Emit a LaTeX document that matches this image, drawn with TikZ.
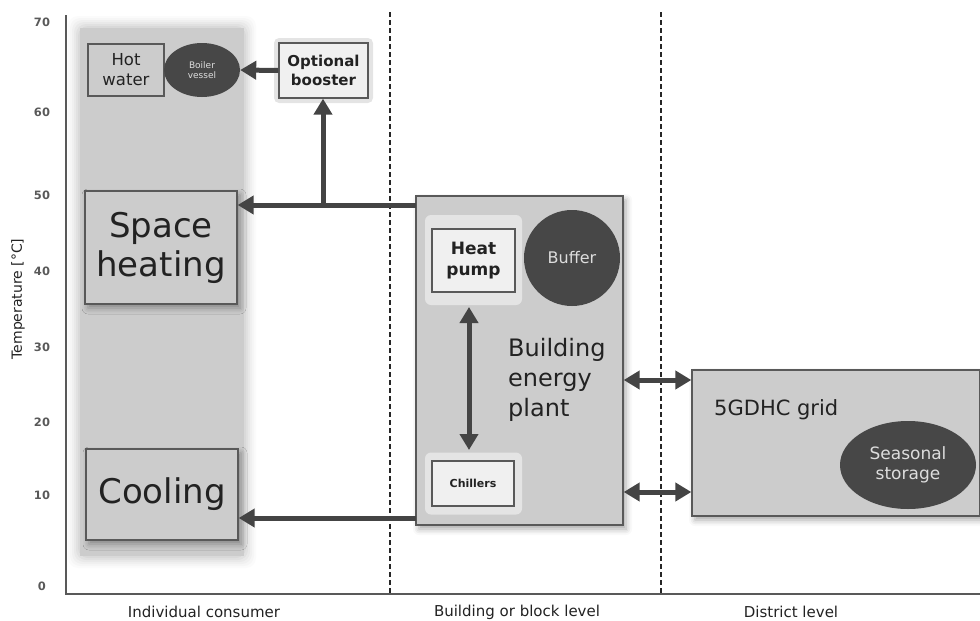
\documentclass[tikz,border=0pt]{standalone}
\usepackage{fontspec}
\setmainfont{DejaVu Sans}
\usetikzlibrary{arrows.meta,shadows.blur,calc,shapes.geometric}
\definecolor{boxgray}{HTML}{CCCCCC}
\definecolor{edgegray}{HTML}{595959}
\definecolor{darkfill}{HTML}{474747}
\definecolor{arrowgray}{HTML}{444444}
\definecolor{palefill}{HTML}{F0F0F0}
\definecolor{glowfill}{HTML}{E4E4E4}
\definecolor{txt}{HTML}{222222}
\definecolor{lighttxt}{HTML}{DDDDDD}
\newcommand{\fs}[2]{\fontsize{#1}{#2}\selectfont}
\begin{document}
\begin{tikzpicture}[x=1pt,y=-1pt,
  mybox/.style={draw=edgegray, line width=1.3pt, fill=boxgray, inner sep=0pt, text=txt, align=center},
  shadowed/.style={blur shadow={shadow xshift=3pt, shadow yshift=-4pt, shadow blur radius=6pt, shadow opacity=35}},
  palebox/.style={draw=edgegray, line width=1.3pt, fill=palefill, inner sep=0pt, text=txt, align=center, font=\bfseries},
  glow/.style={fill=glowfill, rounded corners=6pt, inner sep=0pt},
  darkobj/.style={ellipse, fill=darkfill, text=lighttxt, align=center, inner sep=0pt},
  tipshape/.tip={Triangle[length=16pt,width=18pt]},
  flow/.style={draw=arrowgray, line width=5pt, -tipshape},
  dflow/.style={draw=arrowgray, line width=5pt, tipshape-tipshape},
  divider/.style={draw=black!85, line width=1.5pt, dash pattern=on 5pt off 3pt},
  axisline/.style={draw=edgegray, line width=2.5pt},
  tick/.style={text=black!65, font=\bfseries\fs{11.5}{13}},
  levellabel/.style={text=txt, font=\fs{15}{17}}
]
\useasboundingbox (0,0) rectangle (980,621);

% shaded consumer column with soft edges
\foreach \d/\o in {12/0.08,10/0.1,8/0.14,6/0.2,4/0.28,2/0.4}{
  \fill[boxgray, opacity=\o, rounded corners=10pt] (80-\d,28-\d) rectangle (244+\d,556+\d);
}
\fill[boxgray] (80,28) rectangle (244,556);
\node[inner sep=0pt, minimum width=164pt, minimum height=528pt] (col) at (162,292) {};

% dividers
\coordinate (d1top) at (390,12);
\coordinate (d1bot) at (390,594);
\coordinate (d2top) at (661,12);
\coordinate (d2bot) at (661,594);
\draw[divider] (d1top) -- (d1bot);
\draw[divider] (d2top) -- (d2bot);

% axes
\coordinate (ytop) at (66,15);
\coordinate (orig) at (66,594);
\coordinate (xend) at (980,594);
\draw[axisline] (ytop) -- (orig) -- (xend);

\foreach \v/\y in {70/22,60/112,50/195,40/271,30/347,20/422,10/495,0/586}{
  \node[tick] (t\v) at (42,\y) {\v};
}
\node[rotate=90, text=txt, font=\fs{14}{16}] (ylab) at (18,299) {Temperature [°C]};

\node[levellabel] (lab1) at (204,612) {Individual consumer};
\node[levellabel] (lab2) at (517,612) {Building or block level};
\node[levellabel] (lab3) at (791,612) {District level};

% consumer boxes
\node[mybox, minimum width=76pt, minimum height=52pt, font=\fs{16.5}{20}] (hotwater) at (126,70) {Hot\\water};
\node[darkobj, minimum width=76pt, minimum height=54pt, font=\fs{9}{10}] (boiler) at (202,70) {Boiler\\vessel};
\node[mybox, shadowed, minimum width=152pt, minimum height=113pt, font=\fs{34}{39}] (space) at (161,247.5) {Space\\heating};
\node[mybox, shadowed, minimum width=152pt, minimum height=91pt, font=\fs{34}{39}] (cooling) at (162,494.5) {Cooling};

% booster
\fill[glowfill, rounded corners=5pt] (274,38) rectangle (373,103);
\node[palebox, minimum width=89pt, minimum height=55pt, font=\bfseries\fs{15}{19}] (booster) at (323.5,70.5) {Optional\\booster};

% building energy plant
\node[mybox, shadowed, minimum width=207pt, minimum height=329pt] (plant) at (519.5,360.5) {};
\node[glow, minimum width=97pt, minimum height=90pt] (hpglow) at (473.5,260) {};
\node[palebox, minimum width=83pt, minimum height=63pt, font=\bfseries\fs{17}{21}] (hp) at (473.5,260.5) {Heat\\pump};
\node[circle, fill=darkfill, text=lighttxt, minimum size=96pt, inner sep=0pt, font=\fs{16}{19}] (buffer) at (572,258) {Buffer};
\node[glow, minimum width=97pt, minimum height=62pt] (chglow) at (473.5,483.5) {};
\node[palebox, minimum width=82pt, minimum height=45pt, font=\bfseries\fs{11}{13}] (chillers) at (473,483.5) {Chillers};
\node[anchor=west, align=left, text=txt, font=\fs{24}{30}, inner sep=0pt] (plantlab) at (508,380) {Building\\energy\\plant};

% district grid
\node[mybox, shadowed, minimum width=288pt, minimum height=146pt] (grid) at (836,443) {};
\node[anchor=west, text=txt, font=\fs{21}{25}, inner sep=0pt] (gridlab) at (714,410) {5GDHC grid};
\node[darkobj, minimum width=136pt, minimum height=88pt, font=\fs{17}{20}] (storage) at (908,465) {Seasonal\\storage};

% flows
\draw[flow] (booster.west) -- (boiler.east);
\coordinate (hs) at (416,205);
\coordinate (br) at (323,205);
\draw[flow] (hs) -- (space.east |- hs);
\draw[flow] (br) -- (booster.south -| br);
\coordinate (cs) at (416,518);
\draw[flow] (cs) -- (cooling.east |- cs);
\coordinate (hpa) at (469,307);
\coordinate (cha) at (469,450);
\draw[dflow] (hpa) -- (cha);
\coordinate (ga) at (0,380);
\coordinate (gb) at (0,492);
\draw[dflow] (plant.east |- ga) -- (grid.west |- ga);
\draw[dflow] (plant.east |- gb) -- (grid.west |- gb);
\end{tikzpicture}
\end{document}
